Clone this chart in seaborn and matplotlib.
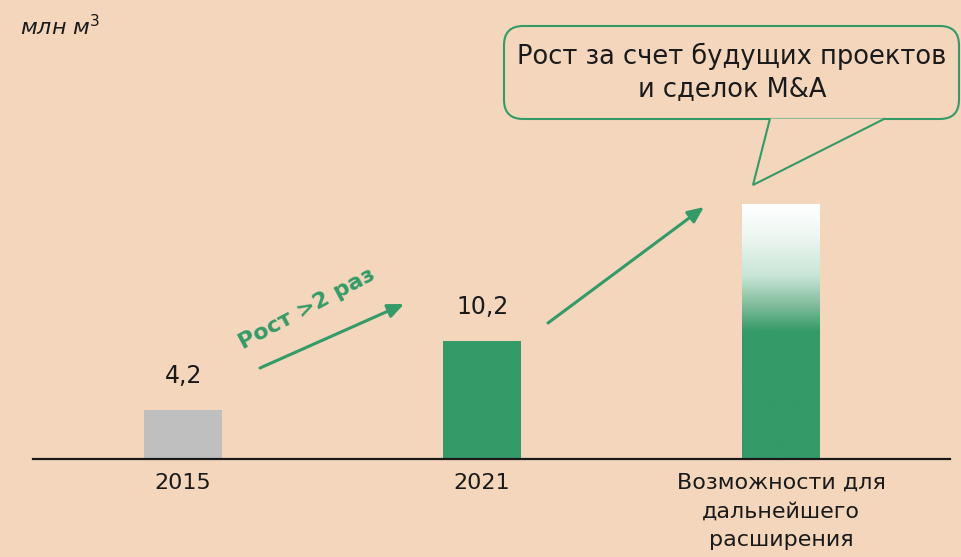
import matplotlib
matplotlib.use("Agg")
import matplotlib.pyplot as plt
import seaborn as sns
import numpy as np
import pandas as pd
from matplotlib.colors import LinearSegmentedColormap
from matplotlib.patches import FancyBboxPatch, Polygon

categories = ["2015", "2021", "Возможности для\nдальнейшего\nрасширения"]
values = [4.2, 10.2, 22.0]
value_labels = ["4,2", "10,2", ""]
unit_label = r"млн м$^{\mathit{3}}$"
growth_label = "Рост >2 раз"
callout_text = "Рост за счет будущих проектов\nи сделок M&A"

GREEN = "#349a68"
GRAY = "#bfbfbf"
BG = "#f4d6bc"
W, H = 962, 557

sns.set_theme(style="white")
plt.rcParams["font.family"] = ["DejaVu Sans"]
plt.rcParams["mathtext.fontset"] = "dejavusans"

df = pd.DataFrame({"cat": categories, "val": values})

fig = plt.figure(figsize=(W / 100, H / 100), dpi=100)
fig.patch.set_facecolor(BG)


def px(x, y):
    # pixel position (from top-left) -> figure fraction
    return x / W, 1 - y / H


ax = fig.add_axes([33 / W, (H - 459) / H, (950 - 33) / W, 459 / H])
ax.set_facecolor("none")
sns.barplot(data=df, x="cat", y="val", hue="cat", palette=[GRAY, GREEN, GREEN],
            width=0.26, legend=False, ax=ax, saturation=1, linewidth=0)
ax.set_xlim(-0.502, 2.565)
ax.set_ylim(0, 39.6)

for s in ["top", "right", "left"]:
    ax.spines[s].set_visible(False)
ax.spines["bottom"].set_color("#1a1a1a")
ax.spines["bottom"].set_linewidth(1.6)
ax.set_yticks([])
ax.set_xlabel("")
ax.set_ylabel("")
ax.tick_params(axis="x", length=0, pad=10, labelsize=16, labelcolor="#1a1a1a")
for lbl in ax.get_xticklabels():
    lbl.set_linespacing(1.52)

# value labels
for i, (v, t) in enumerate(zip(values, value_labels)):
    if t:
        ax.annotate(t, (i, v), xytext=(0, 16), textcoords="offset points",
                    ha="center", va="bottom", fontsize=17, color="#1a1a1a")

# gradient on the future bar
bar = ax.patches[2]
x0, w = bar.get_x(), bar.get_width()
h = bar.get_height()
cmap = LinearSegmentedColormap.from_list(
    "fade", [(0, GREEN), (0.5, GREEN), (0.6, "#7dbb9a"), (0.72, "#c9e5d6"),
             (0.88, "#eef7f2"), (1.0, "#ffffff")])
grad = np.linspace(0, 1, 256).reshape(-1, 1)
im = ax.imshow(grad, extent=[x0, x0 + w, 0, h], origin="lower", aspect="auto",
               cmap=cmap, zorder=bar.get_zorder() + 1)
im.set_clip_path(bar)
ax.set_xlim(-0.502, 2.565)
ax.set_ylim(0, 39.6)

# unit label
fig.text(*px(20, 27), unit_label, ha="left", va="center", fontsize=16,
         style="italic", color="#1a1a1a")

# growth arrows
arrow_kw = dict(arrowstyle="-|>,head_length=0.8,head_width=0.35", color=GREEN,
                lw=2.2, shrinkA=0, shrinkB=0)
ax.annotate("", xy=px(404, 304), xytext=px(260, 368),
            xycoords="figure fraction", textcoords="figure fraction", arrowprops=arrow_kw)
ax.annotate("", xy=px(704, 207), xytext=px(548, 323),
            xycoords="figure fraction", textcoords="figure fraction", arrowprops=arrow_kw)
fig.text(*px(307, 309), growth_label, ha="center", va="center", rotation=28,
         rotation_mode="anchor", fontsize=16, fontweight="bold", color=GREEN)

# callout
bx0, by0, bx1, by1 = px(504, 119) + px(959, 26)
box = FancyBboxPatch((bx0, by0), bx1 - bx0, by1 - by0,
                     boxstyle="round,pad=0,rounding_size=0.02",
                     transform=fig.transFigure, facecolor=BG, edgecolor=GREEN,
                     lw=1.5, zorder=5, mutation_aspect=W / H)
fig.patches.append(box)
tail = Polygon([px(770, 118.5), px(753, 185), px(885, 118.5)], closed=False,
               transform=fig.transFigure, facecolor=BG, edgecolor=GREEN, lw=1.5, zorder=6)
fig.patches.append(tail)
fig.text(*px(732, 72), callout_text, ha="center", va="center", fontsize=18.5,
         color="#1a1a1a", linespacing=1.3, zorder=7)

fig.savefig("out.png", dpi=100, facecolor=BG)
